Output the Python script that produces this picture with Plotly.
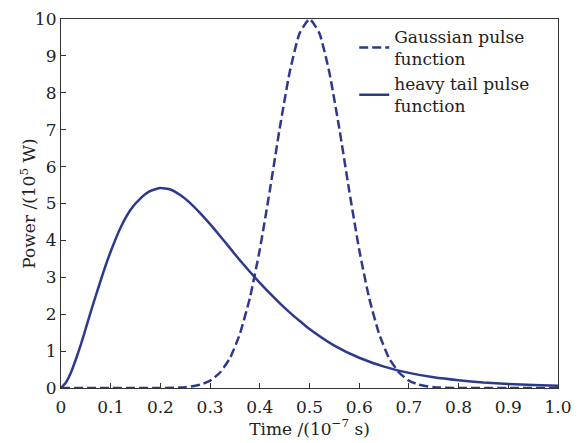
import plotly.graph_objects as go

# Gaussian pulse
t_gauss = [0.0, 0.1, 0.2, 0.25, 0.28, 0.30, 0.32, 0.34, 0.36, 0.38, 0.40, 0.42, 0.44, 0.46, 0.48, 0.50,
           0.52, 0.54, 0.56, 0.58, 0.60, 0.62, 0.64, 0.66, 0.68, 0.70, 0.72, 0.75, 0.80, 0.9, 1.0]
p_gauss = [0.0, 0.0, 0.0, 0.02, 0.09, 0.20, 0.42, 0.81, 1.47, 2.44, 3.75, 5.34, 7.03, 8.55, 9.61, 10.0,
           9.61, 8.55, 7.03, 5.34, 3.75, 2.44, 1.47, 0.81, 0.42, 0.20, 0.09, 0.02, 0.0, 0.0, 0.0]

# Heavy tail pulse
t_heavy = [0.0, 0.01, 0.02, 0.03, 0.04, 0.05, 0.06, 0.07, 0.08, 0.09, 0.10, 0.12, 0.14, 0.16, 0.18, 0.20,
           0.22, 0.24, 0.26, 0.28, 0.30, 0.32, 0.34, 0.36, 0.38, 0.40, 0.42, 0.44, 0.46, 0.48, 0.50,
           0.55, 0.60, 0.65, 0.70, 0.75, 0.80, 0.85, 0.90, 0.95, 1.0]
p_heavy = [0.0, 0.15, 0.42, 0.78, 1.18, 1.62, 2.07, 2.5, 2.92, 3.33, 3.7, 4.35, 4.83, 5.14, 5.34, 5.42,
           5.38, 5.23, 5.01, 4.74, 4.44, 4.12, 3.79, 3.46, 3.15, 2.85, 2.57, 2.3, 2.05, 1.82, 1.6,
           1.15, 0.82, 0.58, 0.41, 0.29, 0.21, 0.15, 0.11, 0.08, 0.06]

x_ticks = [0, 0.1, 0.2, 0.3, 0.4, 0.5, 0.6, 0.7, 0.8, 0.9, 1.0]
x_ticktext = ["0", "0.1", "0.2", "0.3", "0.4", "0.5", "0.6", "0.7", "0.8", "0.9", "1.0"]
y_ticks = list(range(0, 11))

color = "#2d3a8c"
font = "DejaVu Serif"
txt = "#222"

fig = go.Figure()
fig.add_trace(go.Scatter(x=t_gauss, y=p_gauss, mode="lines", name="Gaussian pulse<br>function",
                         line=dict(color=color, width=2.5, dash="9px,4px", shape="spline", smoothing=0.5)))
fig.add_trace(go.Scatter(x=t_heavy, y=p_heavy, mode="lines", name="heavy tail pulse<br>function",
                         line=dict(color=color, width=2.5, shape="spline", smoothing=0.5)))

axis_common = dict(showline=True, linecolor="#333", linewidth=1.2, mirror=True, showgrid=False,
                   zeroline=False, ticks="inside", ticklen=5, tickcolor="#333", automargin=False,
                   ticklabeloverflow="allow",
                   tickfont=dict(family=font, size=17, color=txt))

# page body has an 8px default margin, so margins are reduced on the left/top
fig.update_layout(
    width=580, height=443,
    margin=dict(l=53, r=30, t=11, b=63),
    plot_bgcolor="white", paper_bgcolor="white",
    font=dict(family=font, color=txt),
    xaxis=dict(range=[0, 1.0], tickvals=x_ticks, ticktext=x_ticktext, ticklabelstandoff=3,
               title=dict(text="Time /(10<sup>−7</sup> s)", font=dict(family=font, size=17, color=txt), standoff=3),
               **axis_common),
    yaxis=dict(range=[0, 10], tickvals=y_ticks, **axis_common),
    legend=dict(x=0.59, y=1.0, xanchor="left", yanchor="top", bgcolor="rgba(0,0,0,0)",
                font=dict(family=font, size=17, color=txt), tracegroupgap=0),
    showlegend=True,
    annotations=[dict(text="Power /(10<sup>5</sup> W)", xref="paper", yref="paper", x=-0.068, y=0.5,
                      xanchor="center", yanchor="middle", textangle=-90, showarrow=False,
                      font=dict(family=font, size=17, color=txt))],
)

fig.write_html("out.html")
